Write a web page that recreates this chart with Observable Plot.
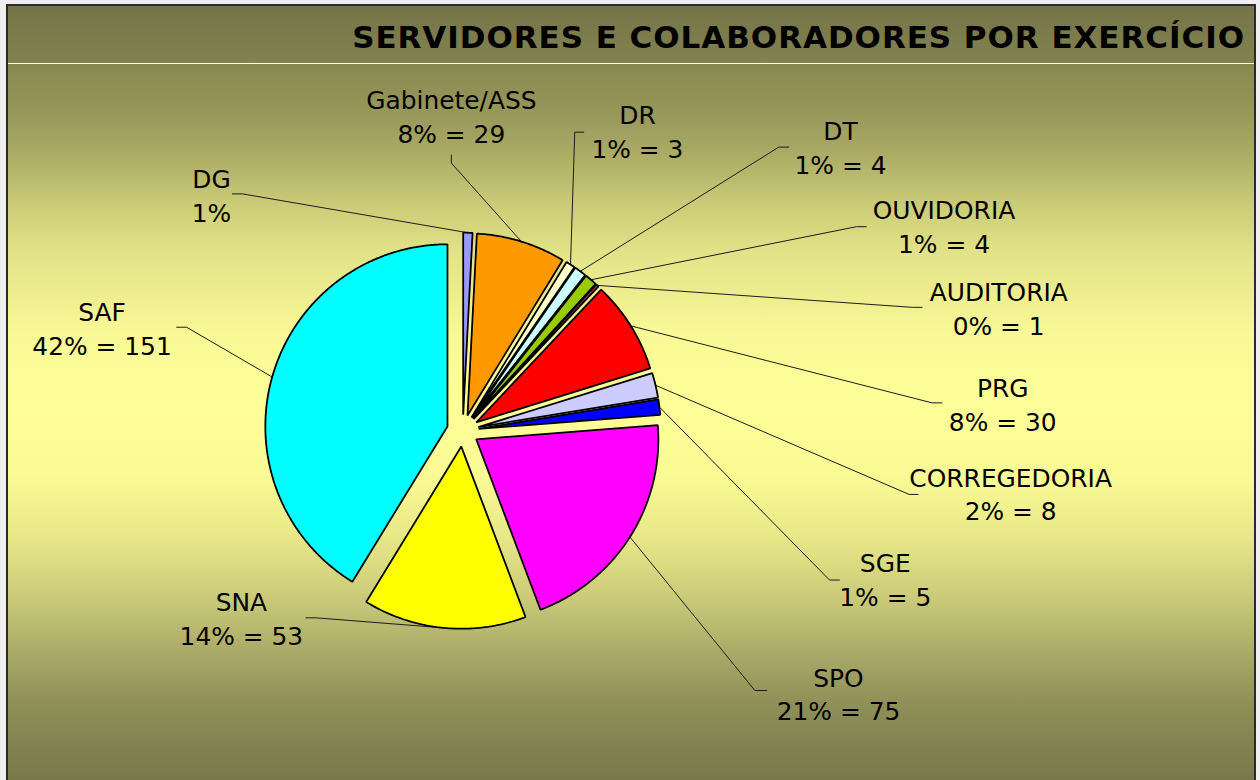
<!DOCTYPE html>
<html>
<head>
<meta charset="utf-8">
<script src="https://cdn.jsdelivr.net/npm/d3@7"></script>
<script src="https://cdn.jsdelivr.net/npm/@observablehq/plot@0.6"></script>
<style>
html, body { margin: 0; padding: 0; background: #efefef; width: 1260px; height: 780px; overflow: hidden; }
#frame {
  position: absolute; left: 6px; top: 4px; width: 1246px; height: 776px;
  border: 2px solid #2a2a2a; border-bottom: none; overflow: hidden;
  font-family: "DejaVu Sans", sans-serif;
  background: linear-gradient(to bottom,
    #747448 0px, #828250 56px, #8a8a53 64px, #9a9a5c 114px, #b0b068 156px,
    #cccc78 200px, #e2e288 246px, #f8f896 326px, #ffff99 400px, #fafa95 470px,
    #e8e888 530px, #c8c878 596px, #aaaa68 646px, #909058 696px, #77774a 776px);
}
#title { position: absolute; left: 0; top: 0; width: 1246px; height: 57px; border-bottom: 1px solid #ffffff; }
#title span {
  position: absolute; right: 9px; top: 16px; line-height: 31px;
  font-size: 31px; font-weight: bold; letter-spacing: 0.95px; color: #000; white-space: nowrap;
}
#chart { position: absolute; left: -8px; top: 58px; }
</style>
</head>
<body>
<div id="frame">
  <div id="title"><span>SERVIDORES E COLABORADORES POR EXERCÍCIO</span></div>
  <div id="chart"></div>
</div>
<script>
// ---- data ----
const names  = ["DG", "Gabinete/ASS", "DR", "DT", "OUVIDORIA", "AUDITORIA", "PRG", "CORREGEDORIA", "SGE", "SPO", "SNA", "SAF"];
const values = [3, 29, 3, 4, 4, 1, 30, 8, 5, 75, 53, 151];
const pctLabels = ["1%", "8%", "1%", "1%", "1%", "0%", "8%", "2%", "1%", "21%", "14%", "42%"];
const showValue = [false, true, true, true, true, true, true, true, true, true, true, true];
const colors = ["#9999ff", "#ff9900", "#ffffcc", "#ccffff", "#99cc00", "#993366", "#ff0000", "#ccccff", "#0000ff", "#ff00ff", "#ffff00", "#00ffff"];

// ---- layout (pixel offsets from the pie centre) ----
const W = 1260, H = 716;
const CX = 464.5, CY = 368;          // pie centre inside the svg
const R = 183, EXPLODE = 16;
const labelAt = [
  [-252.5, -245], [-11.5, -324], [175.5, -309], [379.5, -293], [483.5, -214], [538.5, -131],
  [542.5, -35], [550.5, 55], [424.5, 141], [377.5, 256], [-222.5, 180], [-362.5, -111]
];
const stubs = [
  [[-231.5, -238], [-221.5, -238]], [[-11.5, -277], [-11.5, -269]], [[121.5, -300], [112.5, -300]],
  [[327.5, -285], [317.5, -285]], [[405.5, -205], [395.5, -205]], [[461.5, -124], [451.5, -124]],
  [[481.5, -28], [471.5, -28]], [[457.5, 64], [448.5, 64]], [[378.5, 150], [368.5, 150]],
  [[305.5, 261], [293.5, 261]], [[-157.5, 188], [-147.5, 188]], [[-287.5, -104], [-277.5, -104]]
];

const arcs = d3.pie().sort(null).value(d => d)(values);

const slicePts = [];
const leaderPts = [];
const labels = [];
arcs.forEach((a, i) => {
  const mid = (a.startAngle + a.endAngle) / 2;
  const ox = EXPLODE * Math.sin(mid), oy = -EXPLODE * Math.cos(mid);
  slicePts.push({name: names[i], color: colors[i], x: ox, y: oy});
  const n = Math.max(2, Math.ceil((a.endAngle - a.startAngle) / (Math.PI / 360)));
  for (let k = 0; k <= n; k++) {
    const t = a.startAngle + (a.endAngle - a.startAngle) * k / n;
    slicePts.push({name: names[i], color: colors[i], x: ox + R * Math.sin(t), y: oy - R * Math.cos(t)});
  }
  const s = stubs[i];
  leaderPts.push({name: names[i], x: s[0][0], y: s[0][1]});
  leaderPts.push({name: names[i], x: s[1][0], y: s[1][1]});
  leaderPts.push({name: names[i], x: ox + R * Math.sin(mid), y: oy - R * Math.cos(mid)});
  labels.push({
    x: labelAt[i][0], y: labelAt[i][1],
    text: names[i] + "\n" + pctLabels[i] + (showValue[i] ? " = " + values[i] : "")
  });
});

const chart = Plot.plot({
  width: W, height: H,
  margin: 0,
  style: {background: "transparent", fontFamily: "DejaVu Sans, sans-serif", overflow: "visible"},
  x: {domain: [-CX, W - CX], range: [0, W], axis: null},
  y: {domain: [-CY, H - CY], range: [0, H], axis: null},
  color: {type: "identity"},
  marks: [
    Plot.line(leaderPts, {x: "x", y: "y", z: "name", stroke: "#1a1a1a", strokeWidth: 1, curve: "linear"}),
    Plot.line(slicePts, {x: "x", y: "y", z: "name", fill: "color", stroke: "#000", strokeWidth: 1.8, curve: "linear-closed", strokeLinejoin: "miter"}),
    Plot.text(labels, {x: "x", y: "y", text: "text", fontSize: 25, lineHeight: 1.36, lineAnchor: "top", dy: -23, fill: "#000", textAnchor: "middle"})
  ]
});
document.getElementById("chart").appendChild(chart);
</script>
</body>
</html>
